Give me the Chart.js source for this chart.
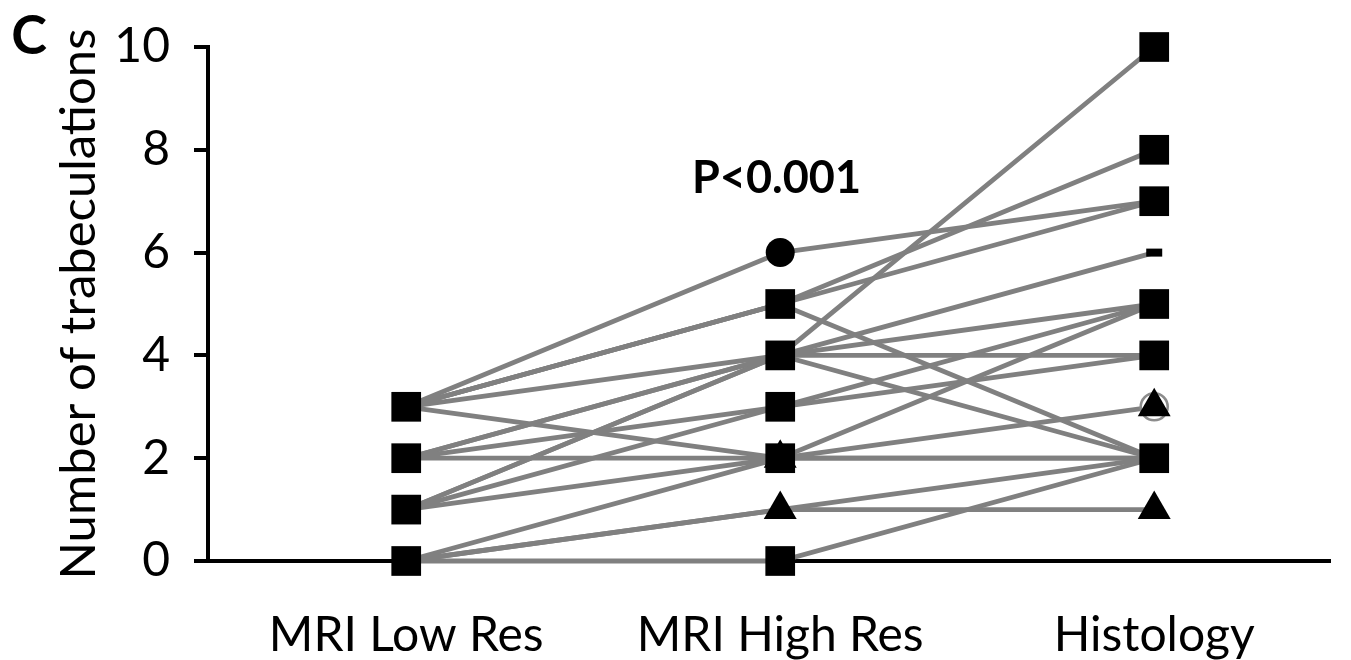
<!DOCTYPE html>
<html lang="en">
<head>
  <meta charset="UTF-8" />
  <title>Number of trabeculations</title>
  <script src="https://cdn.jsdelivr.net/npm/chart.js"></script>
  <style>
    body { margin: 0; background: #ffffff; }
    .wrap { width: 1351px; height: 660px; position: relative; }
  </style>
</head>
<body>
<div class="wrap">
  <canvas id="chart"></canvas>
</div>

<script>
// categories on the x axis
const categories = ['MRI Low Res', 'MRI High Res', 'Histology'];

// one entry per specimen
const mriLow    = [3, 3, 3, 3, 3, 2, 1, 1, 2, 2, 1, 3, 2, 1, 0, 0, 0, 0];
const mriHigh   = [6, 5, 5, 5, 4, 4, 4, 4, 4, 3, 3, 2, 2, 2, 2, 1, 1, 0];
const histology = [7, 8, 7, 2, 10, 6, 5, 4, 2, 5, 4, 2, 2, 5, 3, 2, 1, 2];

// marker values per category
const squareLow = [3, 2, 1, 0];
const squareHigh = [5, 4, 3, 2, 0];
const circleHigh = [6];
const triangleHigh = [2, 1];
const squareHist = [10, 8, 7, 5, 4, 2];
const dashHist = [6];
const openCircleHist = [3];
const triangleHist = [3, 1];

const yTicks = [0, 2, 4, 6, 8, 10];
const pValue = 'P<0.001';
const panelLabel = 'C';

const FONT = 'Lato, "Open Sans", sans-serif';
const AXIS_X = 208;

const datasets = [];

// specimen lines
mriLow.forEach((v, i) => {
  datasets.push({
    data: [{ x: 0, y: v }, { x: 1, y: mriHigh[i] }, { x: 2, y: histology[i] }],
    borderColor: '#808080',
    borderWidth: 4.8,
    pointRadius: 0,
    clip: false,
    order: 10
  });
});

function pts(cat, vals) { return vals.map(v => ({ x: cat, y: v })); }

datasets.push({
  data: [...pts(0, squareLow), ...pts(1, squareHigh), ...pts(2, squareHist)],
  showLine: false, pointStyle: 'rect', pointRadius: 21, clip: false,
  backgroundColor: '#000', borderColor: '#000', borderWidth: 0, order: 4
});
datasets.push({
  data: pts(1, circleHigh),
  showLine: false, pointStyle: 'circle', pointRadius: 14.5, clip: false,
  backgroundColor: '#000', borderColor: '#000', borderWidth: 0, order: 4
});
datasets.push({
  data: pts(2, dashHist),
  showLine: false, pointStyle: 'line', pointRadius: 8, clip: false,
  backgroundColor: '#000', borderColor: '#000', borderWidth: 8, order: 4
});
datasets.push({
  data: pts(2, openCircleHist),
  showLine: false, pointStyle: 'circle', pointRadius: 13.5, clip: false,
  backgroundColor: '#fff', borderColor: '#8c8c8c', borderWidth: 2.5, order: 3
});
datasets.push({
  data: [...pts(1, triangleHigh), ...pts(2, triangleHist)],
  showLine: false, pointStyle: 'triangle', pointRadius: 19, clip: false,
  backgroundColor: '#000', borderColor: '#000', borderWidth: 0, order: 0
});

const textPlugin = {
  id: 'texts',
  afterDraw(chart) {
    const { ctx, scales } = chart;
    ctx.save();
    ctx.fillStyle = '#000';
    ctx.textAlign = 'center';
    ctx.textBaseline = 'middle';
    ctx.font = 'bold 45px ' + FONT;
    ctx.fillText(pValue, scales.x.getPixelForValue(0.99), scales.y.getPixelForValue(7.45));
    ctx.font = 'bold 54px ' + FONT;
    ctx.fillText(panelLabel, 29, 37);
    ctx.restore();
  }
};

new Chart(document.getElementById('chart'), {
  type: 'line',
  data: { datasets },
  plugins: [textPlugin],
  options: {
    responsive: true,
    maintainAspectRatio: false,
    animation: false,
    layout: { padding: { top: 47, right: 10, left: 0, bottom: 0 } },
    plugins: { legend: { display: false }, tooltip: { enabled: false } },
    scales: {
      x: {
        type: 'linear',
        min: -0.53,
        max: 2.47,
        afterBuildTicks: s => { s.ticks = categories.map((c, i) => ({ value: i })); },
        afterFit: s => { s.height = 660 - 561; s.paddingRight = 0; s.paddingLeft = 0; },
        grid: { display: false, drawTicks: false },
        border: { color: '#000', width: 4 },
        ticks: {
          padding: 46,
          color: '#000',
          font: { family: FONT, size: 48 },
          callback: v => categories[v]
        }
      },
      y: {
        min: 0,
        max: 10,
        afterBuildTicks: s => { s.ticks = yTicks.map(v => ({ value: v })); },
        afterFit: s => { s.width = AXIS_X; s.paddingTop = 20; },
        grid: { drawOnChartArea: false, drawTicks: true, tickLength: 14, color: '#000', lineWidth: 4 },
        border: { color: '#000', width: 4 },
        ticks: {
          padding: 24,
          color: '#000',
          font: { family: FONT, size: 48 }
        },
        title: {
          display: true,
          text: 'Number of trabeculations',
          color: '#000',
          font: { family: FONT, size: 49 },
          padding: { top: 50, bottom: 0 }
        }
      }
    }
  }
});
</script>
</body>
</html>
